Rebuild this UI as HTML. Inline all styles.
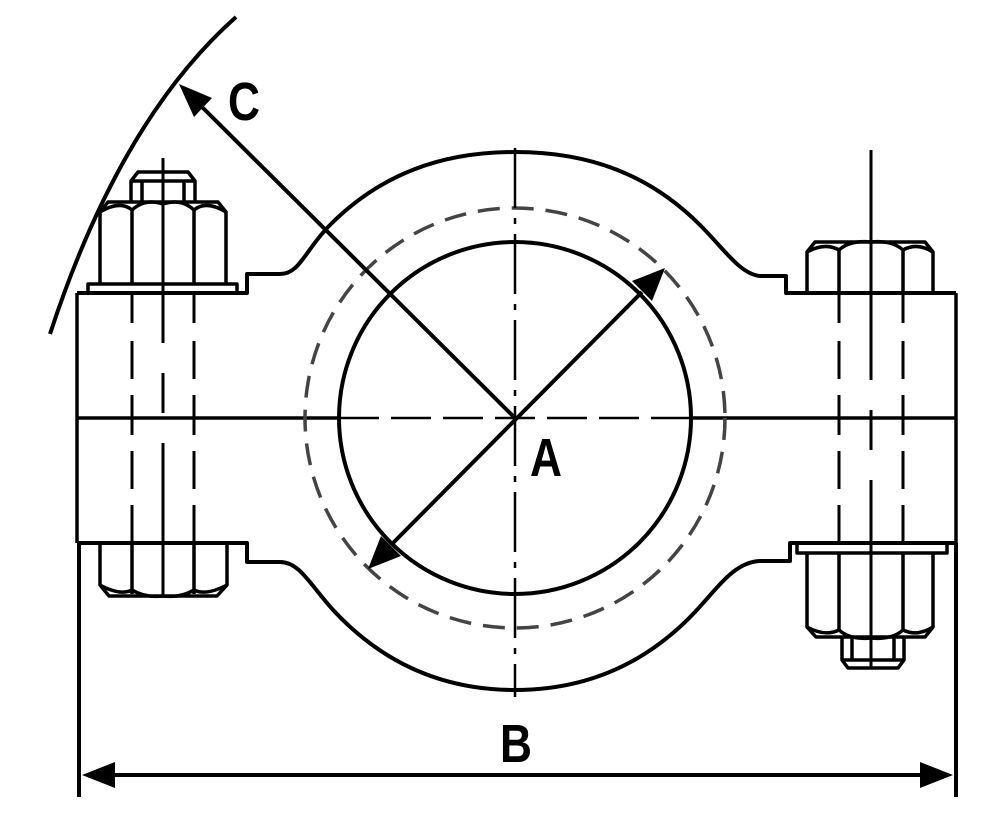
<!DOCTYPE html>
<html><head><meta charset="utf-8"><style>
html,body{margin:0;padding:0;background:#fff;}
svg{display:block;}
text{font-family:"Liberation Sans",sans-serif;font-weight:bold;font-size:54px;fill:#000;}
</style></head><body>
<svg width="1000" height="825" viewBox="0 0 1000 825" xmlns="http://www.w3.org/2000/svg">
<g fill="none" stroke="#000" stroke-width="3.5" stroke-linejoin="round">
<path d="M236 17 Q120 120 50 334" stroke-width="4"/>
<path d="M77 293 H247 V274 H280 C300 274 305 250 330 225 C380 175 440 152 515 152 C590 152 650 175 700 225 C725 250 740 274 760 276 H786 V293 H956" stroke-width="4"/>
<path d="M77 543 H247 V562 H280 C300 562 310 585 335 612 C385 665 445 690 515 690 C585 690 645 665 695 612 C720 585 735 562 760 561 H790 V543 H956" stroke-width="4"/>
<line x1="77" y1="293" x2="77" y2="543"/>
<line x1="956" y1="293" x2="956" y2="543"/>
<line x1="77" y1="418" x2="339" y2="418"/>
<line x1="691" y1="418" x2="956" y2="418"/>
<circle cx="515" cy="418" r="176" stroke-width="4"/>
<circle cx="515" cy="418" r="210" stroke="#444" stroke-dasharray="22 12"/>
<line x1="515" y1="148" x2="515" y2="697" stroke-width="2.5" stroke-dasharray="60 10 6 10"/>
<line x1="339" y1="418" x2="691" y2="418" stroke-width="2.5" stroke-dasharray="40 12"/>
<rect x="88" y="284" width="149" height="9"/>
<path d="M100 284 V212 L108 202 H218 L226 212 V284"/>
<path d="M100 212 Q120 200 132 210 Q145 198 163 204 Q181 198 194 210 Q206 200 226 212"/>
<line x1="132" y1="210" x2="132" y2="284"/><line x1="194" y1="210" x2="194" y2="284"/>
<path d="M131 202 V181 L138 172 H188 L195 181 V202"/>
<line x1="142" y1="181" x2="142" y2="202"/><line x1="184" y1="181" x2="184" y2="202"/><line x1="131" y1="181" x2="195" y2="181"/>
<line x1="163" y1="158" x2="163" y2="595" stroke-width="3" stroke-dasharray="185 30 40 30 300"/>
<line x1="132" y1="293" x2="132" y2="543" stroke-width="3" stroke-dasharray="30 18 38 16 40 16 38 16 50"/>
<line x1="194" y1="293" x2="194" y2="543" stroke-width="3" stroke-dasharray="30 18 38 16 40 16 38 16 50"/>
<path d="M100 543 V585 L109 596 H217 L227 585 V543"/>
<path d="M100 585 Q120 596 132 590 Q145 598 163 596 Q181 598 194 590 Q206 596 227 585"/>
<line x1="132" y1="543" x2="132" y2="594"/><line x1="194" y1="543" x2="194" y2="594"/>
<path d="M807 293 V252 L815 242 H925 L933 252 V293"/>
<path d="M807 252 Q825 242 839 250 Q850 240 871 242 Q892 240 903 250 Q917 242 933 252"/>
<line x1="839" y1="250" x2="839" y2="293"/><line x1="903" y1="250" x2="903" y2="293"/>
<line x1="871" y1="150" x2="871" y2="668" stroke-width="3" stroke-dasharray="230 30 40 30 400"/>
<line x1="839" y1="293" x2="839" y2="543" stroke-width="3" stroke-dasharray="30 18 38 16 40 16 38 16 50"/>
<line x1="903" y1="293" x2="903" y2="543" stroke-width="3" stroke-dasharray="30 18 38 16 40 16 38 16 50"/>
<rect x="797" y="543" width="150" height="10"/>
<path d="M807 553 V627 L816 637 H925 L933 627 V553"/>
<path d="M807 627 Q825 637 839 630 Q850 640 871 638 Q892 640 903 630 Q917 637 933 627"/>
<line x1="839" y1="553" x2="839" y2="630"/><line x1="903" y1="553" x2="903" y2="630"/>
<path d="M842 637 V660 L848 668 H898 L904 660 V637"/>
<line x1="852" y1="637" x2="852" y2="660"/><line x1="894" y1="637" x2="894" y2="660"/><line x1="842" y1="660" x2="904" y2="660"/>
<line x1="79" y1="543" x2="79" y2="797" stroke-width="4"/>
<line x1="956" y1="543" x2="956" y2="797" stroke-width="4"/>
<line x1="110" y1="775" x2="925" y2="775" stroke-width="4"/>
<line x1="515" y1="418" x2="198" y2="103" stroke-width="4"/>
<line x1="392" y1="544" x2="642" y2="292" stroke-width="4"/>
</g>
<g fill="#000">
<polygon points="82,775 115,762 115,788"/>
<polygon points="953,775 920,762 920,788"/>
<polygon points="179,84 212,98 194,117"/>
<polygon points="665,268 652,301 632,281"/>
<polygon points="368,569 381,536 401,556"/>
</g>
<text x="228" y="120" transform="translate(228 0) scale(0.82 1) translate(-228 0)">C</text>
<text x="530" y="476" transform="translate(530 0) scale(0.82 1) translate(-530 0)">A</text>
<text x="500" y="762" transform="translate(500 0) scale(0.82 1) translate(-500 0)">B</text>
</svg>
</body></html>
